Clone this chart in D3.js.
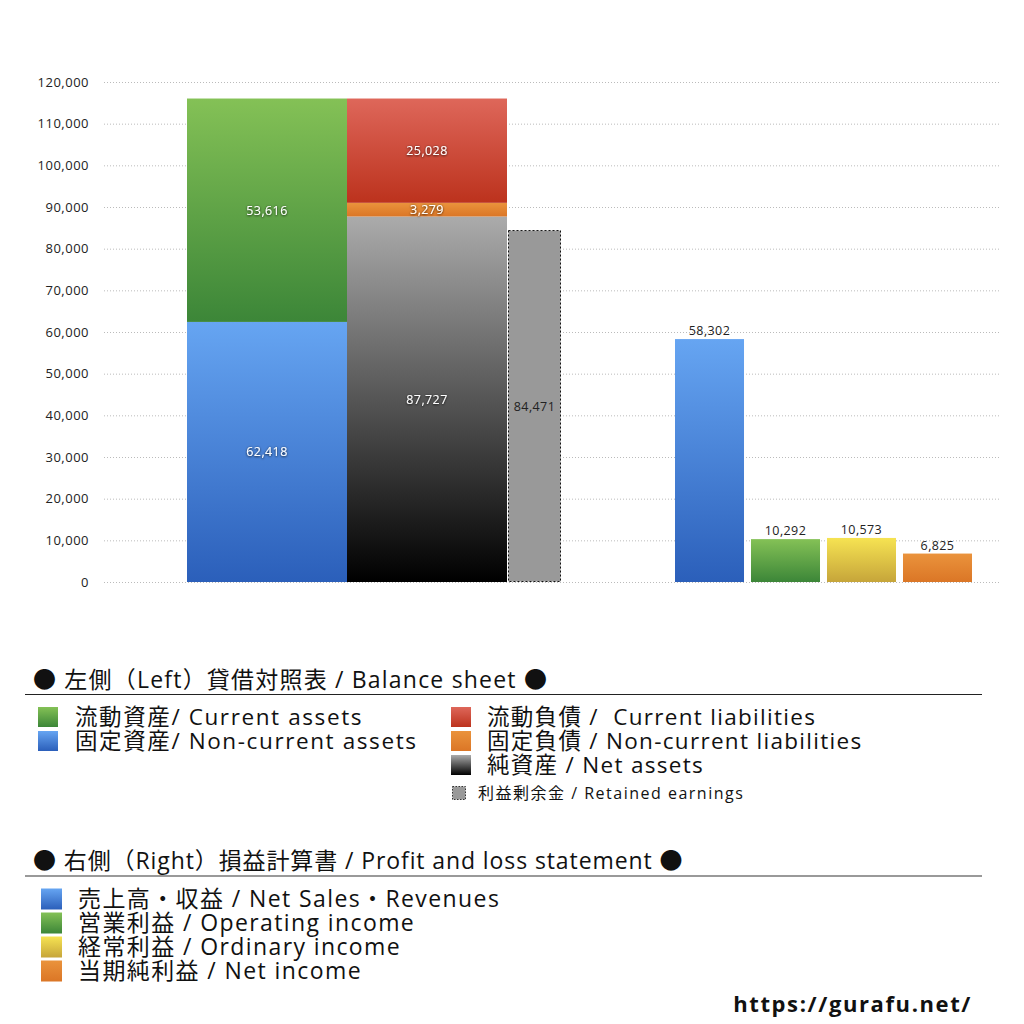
<!DOCTYPE html>
<html><head><meta charset="utf-8">
<script src="https://cdn.jsdelivr.net/npm/d3@7"></script>
<style>
html,body{margin:0;padding:0;background:#fff;}
svg{display:block;font-family:"Open Sans","Noto Sans CJK JP",sans-serif;}
text{white-space:pre;}
</style></head>
<body><svg id="c" width="1024" height="1024"></svg>
<script>
// ---- data ----
const yTicks = [0,10000,20000,30000,40000,50000,60000,70000,80000,90000,100000,110000,120000];
const assetNames = ["固定資産/ Non-current assets","流動資産/ Current assets"];
const assetValues = [62418, 53616];
const liabNames = ["純資産 / Net assets","固定負債 / Non-current liabilities","流動負債 /  Current liabilities"];
const liabValues = [87727, 3279, 25028];
const retainedName = "利益剰余金 / Retained earnings";
const retainedValue = 84471;
const plNames = ["売上高・収益 / Net Sales・Revenues","営業利益 / Operating income","経常利益 / Ordinary income","当期純利益 / Net income"];
const plValues = [58302, 10292, 10573, 6825];
const bsTitle = "● 左側（Left）貸借対照表 / Balance sheet ●";
const plTitle = "● 右側（Right）損益計算書 / Profit and loss statement ●";
const footer = "https://gurafu.net/";

// ---- setup ----
const svg = d3.select("#c");
const defs = svg.append("defs");
const grads = {
  blue:["#66a5f2","#2b5fba"], green:["#84c156","#3c8638"], red:["#de675a","#bc321d"],
  orange:["#ea933c","#db7626"], black:["#ababab","#000000"], yellow:["#f6e352","#c6a53a"]
};
Object.entries(grads).forEach(([k,[a,b]])=>{
  const g = defs.append("linearGradient").attr("id","g-"+k).attr("x1",0).attr("y1",0).attr("x2",0).attr("y2",1);
  g.append("stop").attr("offset","0%").attr("stop-color",a);
  g.append("stop").attr("offset","100%").attr("stop-color",b);
});
const f = defs.append("filter").attr("id","sh").attr("x","-20%").attr("y","-40%").attr("width","140%").attr("height","180%");
f.append("feDropShadow").attr("dx",0).attr("dy",0.6).attr("stdDeviation",0.8).attr("flood-color","#000").attr("flood-opacity",0.9);

const y = d3.scaleLinear().domain([0,120000]).range([582,82]);
const fmt = d3.format(",");

// grid + axis
const axis = d3.axisLeft(y).tickValues(yTicks).tickFormat(fmt).tickSize(0).tickPadding(15);
const ag = svg.append("g").attr("transform","translate(104,0)").call(axis);
ag.select(".domain").remove();
ag.selectAll("text").attr("font-size",13).attr("fill","#222").attr("letter-spacing",0.5)
  .attr("font-family","'Open Sans',sans-serif");
svg.append("g").selectAll("line").data(yTicks).join("line")
  .attr("x1",104).attr("x2",1000).attr("y1",d=>y(d)+0.5).attr("y2",d=>y(d)+0.5)
  .attr("stroke","#bbb").attr("stroke-width",1).attr("stroke-dasharray","1,2");

// left stacked bars
const xl = d3.scaleBand().domain(["assets","liab"]).range([187,507]).padding(0);
function stackData(vals){ let c=0; return vals.map(v=>{const o={y0:c,y1:c+v,v}; c+=v; return o;}); }
const assetStack = stackData(assetValues);
const liabStack = stackData(liabValues);
const assetFills = ["blue","green"];
const liabFills = ["black","orange","red"];
function drawStack(stack, key, fills){
  const g = svg.append("g");
  g.selectAll("rect").data(stack).join("rect")
    .attr("x",xl(key)).attr("width",xl.bandwidth())
    .attr("y",d=>y(d.y1)).attr("height",d=>y(d.y0)-y(d.y1))
    .attr("fill",(d,i)=>"url(#g-"+fills[i]+")");
  g.selectAll("text").data(stack).join("text")
    .attr("x",xl(key)+xl.bandwidth()/2).attr("y",d=>y((d.y0+d.y1)/2)+4.5)
    .attr("text-anchor","middle").attr("font-size",12.5).attr("fill","#fff").attr("letter-spacing",0.4)
    .attr("filter","url(#sh)").text(d=>fmt(d.v));
}
drawStack(assetStack,"assets",assetFills);
drawStack(liabStack,"liab",liabFills);

// retained earnings
const rx = xl("liab")+xl.bandwidth()+1, rw = 53;
svg.append("rect").attr("x",rx+0.5).attr("y",y(retainedValue)+0.5).attr("width",rw-1).attr("height",y(0)-y(retainedValue)-1)
  .attr("fill","#999").attr("stroke","#111").attr("stroke-width",1).attr("stroke-dasharray","2,2");
svg.append("text").attr("x",rx+rw/2).attr("y",y(retainedValue/2)+4.5).attr("text-anchor","middle")
  .attr("font-size",12.5).attr("fill","#222").attr("letter-spacing",0.4).text(fmt(retainedValue));

// right P&L bars
const xr = d3.scaleBand().domain(plNames).range([675,972]).paddingInner(0.092).paddingOuter(0);
const plFills = ["blue","green","yellow","orange"];
svg.append("g").selectAll("rect").data(plValues).join("rect")
  .attr("x",(d,i)=>xr(plNames[i])).attr("width",xr.bandwidth())
  .attr("y",d=>y(d)).attr("height",d=>y(0)-y(d))
  .attr("fill",(d,i)=>"url(#g-"+plFills[i]+")");
svg.append("g").selectAll("text").data(plValues).join("text")
  .attr("x",(d,i)=>xr(plNames[i])+xr.bandwidth()/2).attr("y",d=>y(d)-4)
  .attr("text-anchor","middle").attr("font-size",12.5).attr("fill","#222").attr("letter-spacing",0.4).text(d=>fmt(d));

// ---- legends ----
const lg = svg.append("g");
lg.append("text").attr("x",33).attr("y",688).attr("font-size",23).attr("letter-spacing",1.2).attr("fill","#111").text(bsTitle);
lg.append("line").attr("x1",25).attr("x2",982).attr("y1",694.5).attr("y2",694.5).attr("stroke","#222").attr("stroke-width",1.2);

function legendItem(x, yc, fill, label, size, fs, tx, ls){
  lg.append("rect").attr("x",x).attr("y",yc-size/2).attr("width",size).attr("height",size).attr("fill",fill);
  lg.append("text").attr("x",tx).attr("y",yc+fs*0.36).attr("font-size",fs).attr("letter-spacing",ls)
    .attr("fill","#111").text(label);
}
legendItem(38,717,"url(#g-green)",assetNames[1],20,22.5,75,1.6);
legendItem(38,741,"url(#g-blue)",assetNames[0],20,22.5,75,1.6);
legendItem(451,717,"url(#g-red)",liabNames[2],20,22.5,487,1.3);
legendItem(451,741,"url(#g-orange)",liabNames[1],20,22.5,487,1.3);
legendItem(451,765,"url(#g-black)",liabNames[0],20,22.5,487,1.3);
lg.append("rect").attr("x",452.5).attr("y",786.5).attr("width",13).attr("height",13)
  .attr("fill","#999").attr("stroke","#333").attr("stroke-width",1).attr("stroke-dasharray","1.5,1.5");
lg.append("text").attr("x",478).attr("y",799).attr("font-size",16).attr("letter-spacing",1.5).attr("fill","#111").text(retainedName);

lg.append("text").attr("x",33).attr("y",869).attr("font-size",23).attr("letter-spacing",0.9).attr("fill","#111").text(plTitle);
lg.append("line").attr("x1",25).attr("x2",982).attr("y1",876).attr("y2",876).attr("stroke","#777").attr("stroke-width",1.6);
plNames.forEach((n,i)=>legendItem(41,899+24*i,"url(#g-"+plFills[i]+")",n,21,23,78,1.4));

svg.append("text").attr("x",972).attr("y",1012).attr("text-anchor","end").attr("font-size",22).attr("font-weight","bold")
  .attr("letter-spacing",1.6).attr("fill","#111").attr("font-family","'Open Sans',sans-serif").text(footer);
</script></body></html>
